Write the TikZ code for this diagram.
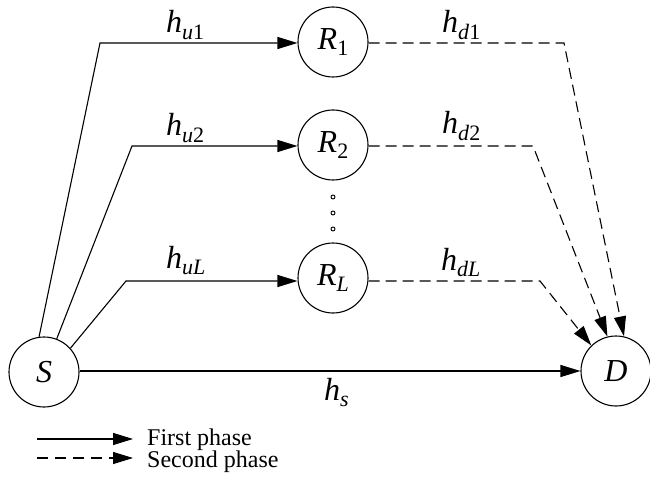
\documentclass[tikz,border=0pt]{standalone}
\usepackage{fontspec}
\setmainfont{Liberation Serif}
\usetikzlibrary{arrows.meta}
\newcommand{\chan}[1]{\textit{h}\raisebox{-0.2em}{\fontsize{22}{22}\selectfont #1}}
\newcommand{\relay}[1]{\textit{R}\raisebox{-0.2em}{\fontsize{22}{22}\selectfont #1}}
\begin{document}
\begin{tikzpicture}[x=1pt,y=-1pt,
  nd/.style={circle,draw,line width=1.1pt,minimum size=70pt,inner sep=0pt,font=\fontsize{32}{32}\selectfont},
  lab/.style={anchor=base west,inner sep=0pt,font=\fontsize{32}{32}\selectfont},
  tip/.style={-{Triangle[length=20pt,width=12pt]}},
  link/.style={line width=1.1pt},
  dlink/.style={line width=1.1pt,dash pattern=on 11pt off 6pt},
  dotc/.style={circle,draw,line width=0.9pt,minimum size=4pt,inner sep=0pt},
  legtxt/.style={anchor=base west,inner sep=0pt,font=\fontsize{24}{24}\selectfont}]
\useasboundingbox (0,0) rectangle (650,481);
% nodes
\node[nd] (S) at (44,372) {\textit{S}};
\node[nd] (D) at (616,371) {\textit{D}};
\node[nd] (R1) at (333,42) {\relay{1}};
\node[nd] (R2) at (333,145) {\relay{2}};
\node[nd] (RL) at (333,278) {\relay{\textit{L}}};
\node[dotc] (o1) at (333,197) {};
\node[dotc] (o2) at (333,213) {};
\node[dotc] (o3) at (333,229) {};
% knees
\coordinate (k1) at (100,43);
\coordinate (k2) at (132,146);
\coordinate (kL) at (126,281);
\coordinate (d1) at (564,43);
\coordinate (d2) at (533,146);
\coordinate (dL) at (540,281);
% first phase
\draw[link,tip] (S.98) -- (k1) -- (R1.west |- k1);
\draw[link,tip] (S.69) -- (k2) -- (R2.west |- k2);
\draw[link,tip] (S.42) -- (kL) -- (RL.west |- kL);
\draw[link,tip] (S.east |- D.west) -- (D.west);
% second phase
\draw[dlink,tip] (R1.east |- d1) -- (d1) -- (D.77);
\draw[dlink,tip] (R2.east |- d2) -- (d2) -- (D.104);
\draw[dlink,tip] (RL.east |- dL) -- (dL) -- (D.134);
% labels
\node[lab] (lu1) at (166,33) {\chan{\textit{u}1}};
\node[lab] (lu2) at (166,136) {\chan{\textit{u}2}};
\node[lab] (luL) at (166,268) {\chan{\textit{uL}}};
\node[lab] (ls) at (324,400) {\chan{\textit{s}}};
\node[lab] (ld1) at (442,33) {\chan{\textit{d}1}};
\node[lab] (ld2) at (442,134) {\chan{\textit{d}2}};
\node[lab] (ldL) at (441,270) {\chan{\textit{dL}}};
% legend
\coordinate (a1) at (37,439);
\coordinate (b1) at (133,439);
\coordinate (a2) at (37,458);
\coordinate (b2) at (133,458);
\draw[link,tip] (a1) -- (b1);
\draw[dlink,dash pattern=on 11pt off 7pt,tip] (a2) -- (b2);
\node[legtxt] (t1) at (147,445) {First phase};
\node[legtxt] (t2) at (147,467) {Second phase};
\end{tikzpicture}
\end{document}
